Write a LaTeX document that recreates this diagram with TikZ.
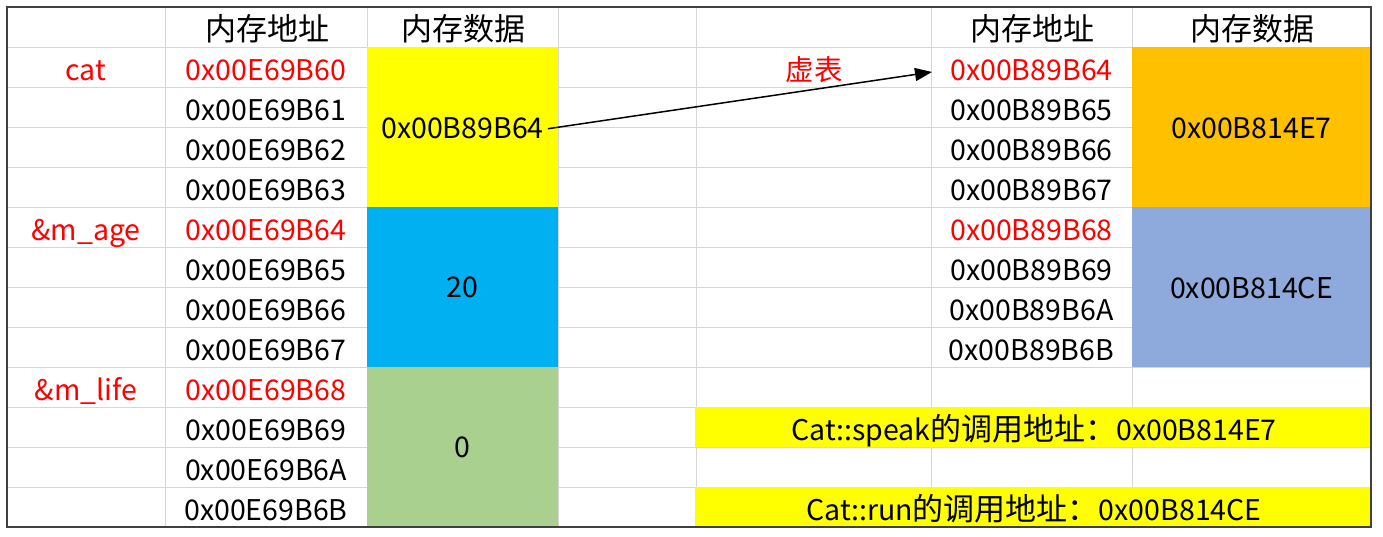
\documentclass[tikz,border=0pt]{standalone}
\usepackage{fontspec}
\setmainfont{Noto Sans CJK SC}
\usetikzlibrary{arrows.meta}
\definecolor{gridgray}{HTML}{D6D6D6}
\definecolor{framegray}{HTML}{404040}
\definecolor{cyellow}{HTML}{FFFF00}
\definecolor{ccyan}{HTML}{00B0F0}
\definecolor{cgreen}{HTML}{A9D08E}
\definecolor{corange}{HTML}{FFC000}
\definecolor{cbluegray}{HTML}{8EA9DB}
\definecolor{cred}{HTML}{FF0000}
\newcommand{\bigcjk}[1]{{\fontsize{31}{34}\selectfont #1}}
\begin{document}
\begin{tikzpicture}[x=1pt,y=-1pt,
  font=\fontsize{28.5}{32}\selectfont,
  gridline/.style={draw=gridgray,line width=1pt},
  txt/.style={inner sep=0pt,anchor=base,text=black},
  redtxt/.style={txt,text=cred},
  headtxt/.style={txt,font=\fontsize{31}{34}\selectfont}]
\useasboundingbox (0,0) rectangle (1383,536);
% grid
\foreach \k in {1,...,12} {\draw[gridline] (7,7+40*\k) -- (1371,7+40*\k);}
\foreach \xx in {165,367,558,696,931,1132} {\draw[gridline] (\xx,7) -- (\xx,527);}
% fills
\fill[cyellow] (367,47) rectangle (558,207);
\fill[ccyan] (367,207) rectangle (558,367);
\fill[cgreen] (367,367) rectangle (558,527);
\fill[corange] (1132,47) rectangle (1371,207);
\fill[cbluegray] (1132,207) rectangle (1371,367);
\fill[cyellow] (695,407) rectangle (1371,447);
\fill[cyellow] (695,487) rectangle (1371,527);
% headers
\node[headtxt] (h1) at (267,40) {内存地址};
\node[headtxt] (h2) at (463,40) {内存数据};
\node[headtxt] (h3) at (1032,40) {内存地址};
\node[headtxt] (h4) at (1252,40) {内存数据};
% left labels
\node[redtxt] (lcat) at (86,80) {cat};
\node[redtxt] (lage) at (86,240) {\&m\_age};
\node[redtxt] (llife) at (86,400) {\&m\_life};
% left addresses
\node[redtxt] (a1) at (266,80) {0x00E69B60};
\node[txt] (a2) at (266,120) {0x00E69B61};
\node[txt] (a3) at (266,160) {0x00E69B62};
\node[txt] (a4) at (266,200) {0x00E69B63};
\node[redtxt] (a5) at (266,240) {0x00E69B64};
\node[txt] (a6) at (266,280) {0x00E69B65};
\node[txt] (a7) at (266,320) {0x00E69B66};
\node[txt] (a8) at (266,360) {0x00E69B67};
\node[redtxt] (a9) at (266,400) {0x00E69B68};
\node[txt] (a10) at (266,440) {0x00E69B69};
\node[txt] (a11) at (266,480) {0x00E69B6A};
\node[txt] (a12) at (266,520) {0x00E69B6B};
% left data
\node[txt] (d1) at (462.5,138) {0x00B89B64};
\node[txt] (d2) at (462.5,297) {20};
\node[txt] (d3) at (462.5,457) {0};
% right
\node[redtxt] (vt) at (814,80) {虚表};
\node[redtxt] (r1) at (1031.5,80) {0x00B89B64};
\node[txt] (r2) at (1031.5,120) {0x00B89B65};
\node[txt] (r3) at (1031.5,160) {0x00B89B66};
\node[txt] (r4) at (1031.5,200) {0x00B89B67};
\node[redtxt] (r5) at (1031.5,240) {0x00B89B68};
\node[txt] (r6) at (1031.5,280) {0x00B89B69};
\node[txt] (r7) at (1031.5,320) {0x00B89B6A};
\node[txt] (r8) at (1031.5,360) {0x00B89B6B};
\node[txt] (e1) at (1251.5,138) {0x00B814E7};
\node[txt] (e2) at (1251.5,298) {0x00B814CE};
\node[txt] (s1) at (1034,440) {Cat::speak\bigcjk{的调用地址：}0x00B814E7};
\node[txt] (s2) at (1034,520) {Cat::run\bigcjk{的调用地址：}0x00B814CE};
% arrow
\coordinate (tip) at (932,72);
\draw[line width=1.5pt,-{Triangle[length=17pt,width=13pt]}] ([xshift=4pt,yshift=-1pt]d1.east) -- (tip);
% frame
\draw[framegray,line width=1.5pt] (7,7) rectangle (1371,527);
\end{tikzpicture}
\end{document}
